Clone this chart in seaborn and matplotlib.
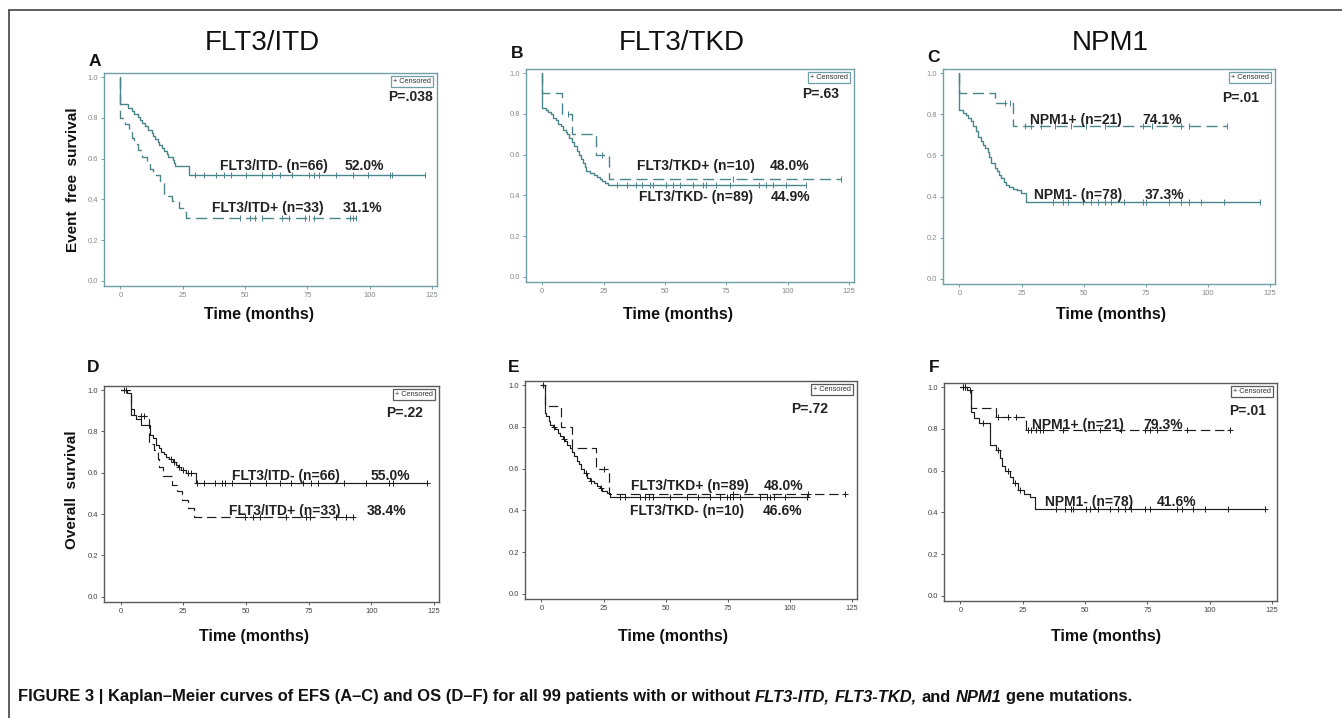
import numpy as np
import matplotlib
matplotlib.use("Agg")
import matplotlib.pyplot as plt
from matplotlib.lines import Line2D
from matplotlib import font_manager
import seaborn as sns

W, H = 1342, 718

# ---------------- data ----------------
gene_titles = ["FLT3/ITD", "FLT3/TKD", "NPM1"]
panel_letters = ["A", "B", "C", "D", "E", "F"]
p_values = ["P=.038", "P=.63", "P=.01", "P=.22", "P=.72", "P=.01"]
x_ticks = [0, 25, 50, 75, 100, 125]
y_ticks = [0.0, 0.2, 0.4, 0.6, 0.8, 1.0]

# A: EFS by FLT3/ITD
efs_itd_neg_t = [0, 0, 3, 4.5, 5.5, 7, 8, 8.5, 10, 11, 12.5, 13, 14, 15, 15.5, 16.5, 17.5, 18.5, 19, 21, 21.5, 22, 27.4]
efs_itd_neg_s = [1.0, 0.866, 0.85, 0.835, 0.82, 0.805, 0.79, 0.773, 0.758, 0.742, 0.727, 0.712, 0.697, 0.682, 0.667, 0.652, 0.636, 0.621, 0.606, 0.591, 0.576, 0.562, 0.52]
efs_itd_neg_c = [30.1, 33.5, 38.3, 41.7, 44.4, 50.5, 56.6, 60.7, 64.0, 68.8, 75.6, 77.6, 79.7, 86.5, 93.2, 99.3, 108.2, 108.9, 122]
efs_itd_pos_t = [0, 0, 1.8, 3.5, 4.5, 5.5, 7, 8.5, 10.5, 12, 13.2, 16, 17.3, 20.5, 23.5, 25, 26.3]
efs_itd_pos_s = [1.0, 0.80, 0.77, 0.74, 0.70, 0.67, 0.64, 0.61, 0.58, 0.55, 0.52, 0.48, 0.415, 0.39, 0.36, 0.34, 0.311]
efs_itd_pos_c = [47.8, 51.8, 53.9, 56.6, 64.7, 67.5, 74.2, 75.6, 77.6, 91.9, 93.2, 94.6]

# B: EFS by FLT3/TKD
efs_tkd_pos_t = [0, 0, 8, 12, 22, 27.3]
efs_tkd_pos_s = [1.0, 0.90, 0.80, 0.70, 0.60, 0.48]
efs_tkd_pos_c = [10.7, 24.5, 77.6, 121.6]
efs_tkd_neg_t = [0, 0, 1.5, 2.5, 3.5, 4.5, 5.5, 6.5, 7.5, 8.5, 9.5, 10, 11, 12, 13, 14, 15, 15.8, 16.5, 17.3, 18, 19.5, 21, 22.2, 23.5, 24.5, 25.5, 27]
efs_tkd_neg_s = [1.0, 0.83, 0.82, 0.81, 0.80, 0.78, 0.77, 0.75, 0.74, 0.72, 0.71, 0.70, 0.68, 0.66, 0.64, 0.62, 0.60, 0.58, 0.56, 0.54, 0.52, 0.51, 0.50, 0.49, 0.48, 0.47, 0.46, 0.449]
efs_tkd_neg_c = [30.3, 34.4, 38.4, 40.5, 43.8, 45.2, 50.6, 53.3, 56, 61.4, 65.5, 66.8, 70.9, 76.3, 88.5, 91.2, 93.9, 99.3, 107.4]

# C: EFS by NPM1
efs_npm_pos_t = [0, 0, 14.3, 21.6]
efs_npm_pos_s = [1.0, 0.905, 0.857, 0.741]
efs_npm_pos_c = [18.3, 20.3, 26.3, 29, 33, 38.3, 45, 51, 58.4, 73.7, 77.7, 89.1, 92.4, 107.8]
efs_npm_neg_t = [0, 0, 1.5, 2.5, 3.5, 4.5, 5.5, 6.5, 7.5, 8.5, 9.5, 10.5, 11.5, 12, 12.8, 14.2, 15, 16, 16.8, 17.8, 18.8, 20, 21.5, 23, 24.8, 26.8]
efs_npm_neg_s = [1.0, 0.821, 0.808, 0.795, 0.78, 0.765, 0.742, 0.72, 0.69, 0.67, 0.652, 0.638, 0.618, 0.59, 0.565, 0.54, 0.525, 0.505, 0.49, 0.47, 0.455, 0.446, 0.439, 0.43, 0.415, 0.373]
efs_npm_neg_c = [37.7, 41.7, 43.7, 49.7, 53, 55.7, 58.4, 61, 66.4, 73.7, 75, 84.4, 89.1, 92.4, 97.1, 106.4, 121.1]

# D: OS by FLT3/ITD
os_itd_neg_t = [0, 2.5, 4.2, 6, 8.2, 11.8, 13, 14.3, 15.5, 16.3, 17.5, 18.3, 19.5, 20.9, 22, 23, 24.2, 26, 30.1]
os_itd_neg_s = [1.0, 0.985, 0.878, 0.862, 0.831, 0.783, 0.768, 0.734, 0.718, 0.70, 0.69, 0.678, 0.665, 0.65, 0.638, 0.626, 0.614, 0.597, 0.55]
os_itd_neg_c = [1.5, 2, 20, 21.5, 23.5, 25, 27, 28, 30.4, 33.1, 37.7, 40.3, 41.7, 44.3, 51.6, 58.2, 63.5, 68.1, 72.8,
                76.1, 78.7, 89.3, 97.9, 107.1, 108.5, 122.3]
os_itd_pos_t = [0, 4, 5.5, 11.5, 13.5, 14.8, 15.5, 16.8, 20.4, 22.4, 24.4, 27, 29.4]
os_itd_pos_s = [1.0, 0.909, 0.874, 0.74, 0.71, 0.665, 0.63, 0.585, 0.541, 0.51, 0.47, 0.43, 0.384]
os_itd_pos_c = [8, 9.5, 49.6, 52.9, 55.6, 66.1, 74.1, 75.4, 86, 89.9, 92.6]

# E: OS by FLT3/TKD
os_tkd_pos_t = [0, 1.6, 8, 12.3, 22.1, 27.1]
os_tkd_pos_s = [1.0, 0.90, 0.80, 0.70, 0.60, 0.48]
os_tkd_pos_c = [25, 77.3, 107.4, 122.2]
os_tkd_neg_t = [0, 1.3, 2, 3, 3.6, 4.5, 5.5, 6.5, 7.6, 8.5, 9.5, 10.5, 11.6, 12.3, 13, 14.3, 15, 16, 17, 18.3, 19.5, 21, 22.3, 23.5, 24.5, 26.3, 27.6]
os_tkd_neg_s = [1.0, 0.869, 0.85, 0.83, 0.81, 0.80, 0.79, 0.77, 0.756, 0.74, 0.73, 0.715, 0.70, 0.68, 0.66, 0.636, 0.62, 0.60, 0.58, 0.556, 0.54, 0.53, 0.516, 0.505, 0.495, 0.484, 0.466]
os_tkd_neg_c = [0.8, 5, 9, 18, 20, 24, 31.8, 33.8, 39.8, 41.8, 43.1, 45.1, 51.8, 58.5, 63.2, 67.9, 71.9, 74.6, 76, 77.3,
                80, 88, 90.7, 92, 93.4, 98.1, 106.8]

# F: OS by NPM1
os_npm_pos_t = [0, 4.3, 14.3, 26.4]
os_npm_pos_s = [1.0, 0.898, 0.855, 0.793]
os_npm_pos_c = [1, 2, 14.9, 18.9, 22.3, 27.1, 28.4, 30.4, 31.8, 33.1, 41.1, 55.9, 64.6, 74, 76, 78.7, 90.7, 108.1]
os_npm_neg_t = [0, 2.5, 4.3, 5.6, 7.6, 12, 14.3, 15.7, 16.8, 17.8, 19.9, 21.2, 23.2, 25.3, 28, 30]
os_npm_neg_s = [1.0, 0.987, 0.88, 0.85, 0.826, 0.722, 0.70, 0.66, 0.62, 0.60, 0.57, 0.54, 0.507, 0.49, 0.475, 0.416]
os_npm_neg_c = [1, 2, 4, 9, 15, 19, 22, 24, 38.5, 41.8, 44.5, 45.1, 50.5, 51.8, 55.2, 59.9, 63.2, 65.9, 68.6, 74, 76,
                86.7, 88.7, 93.4, 98.1, 107.4, 122.2]

caption_parts = [
    ("FIGURE 3 | Kaplan\u2013Meier curves of EFS (A\u2013C) and OS (D\u2013F) for all 99 patients with or without", False),
    ("FLT3-ITD,", True),
    ("FLT3-TKD,", True),
    ("and", False),
    ("NPM1", True),
    ("gene mutations.", False),
]

# ---------------- layout (pixel positions in the figure) ----------------
panels = [
    dict(rect=(104, 437, 73, 286), top=True, letter_xy=(95, 62), xlabel_xy=(259, 315),
         groups=[(efs_itd_neg_t, efs_itd_neg_s, efs_itd_neg_c, "-"),
                 (efs_itd_pos_t, efs_itd_pos_s, efs_itd_pos_c, "--")],
         labels=[("FLT3/ITD- (n=66)", 61.4, 0.565), ("52.0%", 98, 0.565),
                 ("FLT3/ITD+ (n=33)", 59.3, 0.356), ("31.1%", 97, 0.356)],
         p_xy=(116.3, 0.90)),
    dict(rect=(526, 854, 69, 282), top=True, letter_xy=(517, 54), xlabel_xy=(678, 315),
         groups=[(efs_tkd_neg_t, efs_tkd_neg_s, efs_tkd_neg_c, "-"),
                 (efs_tkd_pos_t, efs_tkd_pos_s, efs_tkd_pos_c, "--")],
         labels=[("FLT3/TKD+ (n=10)", 62.8, 0.543), ("48.0%", 100.6, 0.543),
                 ("FLT3/TKD- (n=89)", 62.8, 0.392), ("44.9%", 101, 0.392)],
         p_xy=(113.5, 0.896)),
    dict(rect=(943, 1275, 69, 284), top=True, letter_xy=(933, 58), xlabel_xy=(1111, 315),
         groups=[(efs_npm_neg_t, efs_npm_neg_s, efs_npm_neg_c, "-"),
                 (efs_npm_pos_t, efs_npm_pos_s, efs_npm_pos_c, "--")],
         labels=[("NPM1+ (n=21)", 47, 0.771), ("74.1%", 81.7, 0.771),
                 ("NPM1- (n=78)", 47.7, 0.41), ("37.3%", 82.7, 0.41)],
         p_xy=(113.1, 0.877)),
    dict(rect=(104, 439, 386, 602), top=False, letter_xy=(93, 368), xlabel_xy=(254, 637),
         groups=[(os_itd_neg_t, os_itd_neg_s, os_itd_neg_c, "-"),
                 (os_itd_pos_t, os_itd_pos_s, os_itd_pos_c, "--")],
         labels=[("FLT3/ITD- (n=66)", 66.1, 0.585), ("55.0%", 107.5, 0.585),
                 ("FLT3/ITD+ (n=33)", 65.5, 0.415), ("38.4%", 106, 0.415)],
         p_xy=(113.1, 0.89)),
    dict(rect=(525, 857, 381, 599), top=False, letter_xy=(514, 368), xlabel_xy=(673, 637),
         groups=[(os_tkd_neg_t, os_tkd_neg_s, os_tkd_neg_c, "-"),
                 (os_tkd_pos_t, os_tkd_pos_s, os_tkd_pos_c, "--")],
         labels=[("FLT3/TKD+ (n=89)", 59.6, 0.516), ("48.0%", 97.4, 0.516),
                 ("FLT3/TKD- (n=10)", 58.6, 0.399), ("46.6%", 97.1, 0.399)],
         p_xy=(108.1, 0.888)),
    dict(rect=(944, 1277, 383, 601), top=False, letter_xy=(934, 368), xlabel_xy=(1106, 637),
         groups=[(os_npm_neg_t, os_npm_neg_s, os_npm_neg_c, "-"),
                 (os_npm_pos_t, os_npm_pos_s, os_npm_pos_c, "--")],
         labels=[("NPM1+ (n=21)", 47.3, 0.821), ("79.3%", 81.3, 0.821),
                 ("NPM1- (n=78)", 51.8, 0.451), ("41.6%", 86.7, 0.451)],
         p_xy=(115.2, 0.885)),
]
title_xy = [(262, 43), (682, 43), (1110, 43)]

sns.set_style("white")
plt.rcParams["font.family"] = ["Liberation Sans", "DejaVu Sans"]

fig = plt.figure(figsize=(W / 100, H / 100), dpi=100)


def fx(x):
    return x / W


def fy(y):
    return 1 - y / H


def surv_at(t_arr, s_arr, c):
    idx = np.searchsorted(np.asarray(t_arr), c, side="right") - 1
    return np.asarray(s_arr)[idx]


for i, p in enumerate(panels):
    l, r, t, b = p["rect"]
    ax = fig.add_axes([fx(l), fy(b), (r - l) / W, (b - t) / H])
    if p["top"]:
        line_c, spine_c, tick_c = "#4a858c", "#6f9fa6", "#8a8a8a"
        mark, msize, lw = "|", 14, 1.0
    else:
        line_c, spine_c, tick_c = "#1c1c1c", "#5a5a5a", "#444444"
        mark, msize, lw = "+", 22, 0.85

    for ts, ss, cs, ls in p["groups"]:
        end = max(cs[-1], ts[-1])
        xs = list(ts) + [end]
        ys = list(ss) + [ss[-1]]
        style = "-" if ls == "-" else (0, (8, 4))
        sns.lineplot(x=xs, y=ys, estimator=None, sort=False, drawstyle="steps-post",
                     color=line_c, lw=lw, linestyle=style, ax=ax)
        cy = [surv_at(ts, ss, c) for c in cs]
        sns.scatterplot(x=cs, y=cy, marker=mark, s=msize, color=line_c, linewidth=0.7, ax=ax, zorder=3)

    ax.set_xlim(-6.6, 127)
    ax.set_ylim(-0.025, 1.02)
    ax.set_xticks(x_ticks)
    ax.set_xticklabels([str(v) for v in x_ticks])
    ax.set_yticks(y_ticks)
    ax.set_yticklabels([f"{v:.1f}" for v in y_ticks])
    ax.tick_params(direction="out", length=2.5, width=0.7, pad=1.5, labelsize=5.5,
                   colors=spine_c, labelcolor=tick_c, left=True, bottom=True)
    for sp in ax.spines.values():
        sp.set_color(spine_c)
        sp.set_linewidth(1.0)
        sp.set_visible(True)

    for txt, xv, yv in p["labels"]:
        ax.text(xv, yv, txt, ha="center", va="center", fontsize=10, fontweight="bold", color="#222222")
    ax.text(p["p_xy"][0], p["p_xy"][1], p_values[i], ha="center", va="center",
            fontsize=10, fontweight="bold", color="#222222")
    ax.text(0.982, 0.976, "+ Censored", transform=ax.transAxes, ha="right", va="top",
            fontsize=5.3, color="#333333",
            bbox=dict(boxstyle="square,pad=0.25", fc="white", ec=spine_c, lw=0.9))

    fig.text(fx(p["letter_xy"][0]), fy(p["letter_xy"][1]), panel_letters[i], ha="center", va="center",
             fontsize=12.5, fontweight="bold", color="#111111")
    fig.text(fx(p["xlabel_xy"][0]), fy(p["xlabel_xy"][1]), "Time (months)", ha="center", va="center",
             fontsize=11.5, fontweight="bold", color="#111111")

for name, (x, y) in zip(gene_titles, title_xy):
    fig.text(fx(x), fy(y), name, ha="center", va="center", fontsize=20, color="#111111")

fig.text(fx(73), fy(180), "Event  free  survival", rotation=90, ha="center", va="center",
         fontsize=11, fontweight="bold", color="#111111")
fig.text(fx(72), fy(490), "Overall  survival", rotation=90, ha="center", va="center",
         fontsize=11, fontweight="bold", color="#111111")

# outer frame lines
fig.add_artist(Line2D([fx(9), 1.0], [fy(10), fy(10)], transform=fig.transFigure, color="#333333", lw=1.1))
fig.add_artist(Line2D([fx(9), fx(9)], [fy(10), 0.0], transform=fig.transFigure, color="#333333", lw=1.1))

# caption, pieced together so the gene names can be italic
names = {f.name for f in font_manager.fontManager.ttflist}
cap_family = ["Liberation Sans Narrow"] if "Liberation Sans Narrow" in names else ["Liberation Sans"]
renderer = fig.canvas.get_renderer()


def text_width(s, size, italic):
    tt = fig.text(0, 0, s, fontsize=size, fontweight="bold", family=cap_family,
                  fontstyle="italic" if italic else "normal")
    w = tt.get_window_extent(renderer).width
    tt.remove()
    return w


cap_size = 10.5
space_w = text_width("a a", cap_size, False) - text_width("aa", cap_size, False)
total = sum(text_width(s, cap_size, it) for s, it in caption_parts) + space_w * (len(caption_parts) - 1)
cap_size = cap_size * 1118 / total
space_w = text_width("a a", cap_size, False) - text_width("aa", cap_size, False)

xc = 18.0
for s, it in caption_parts:
    tt = fig.text(fx(xc), fy(697), s, fontsize=cap_size, fontweight="bold", family=cap_family,
                  fontstyle="italic" if it else "normal", ha="left", va="center", color="#111111")
    xc += tt.get_window_extent(renderer).width + space_w

fig.savefig("out.png", dpi=100)
